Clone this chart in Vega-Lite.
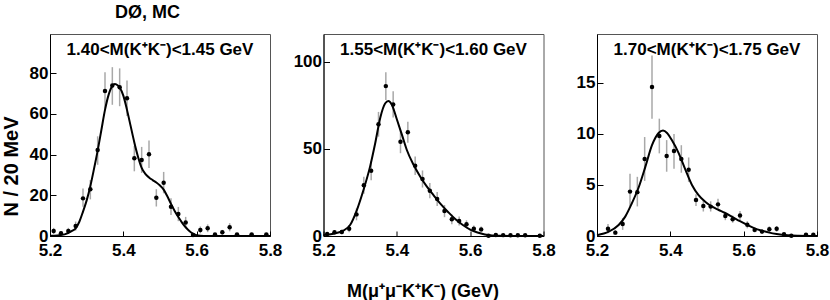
{
  "$schema": "https://vega.github.io/schema/vega-lite/v6.json",
  "padding": {"left": 0, "top": 3, "right": 0, "bottom": 0},
  "background": "white",
  "title": {"text": "DØ, MC", "anchor": "start", "frame": "group", "dx": 65, "fontSize": 18, "font": "Liberation Sans", "fontWeight": "bold", "color": "black", "offset": 12},
  "bounds": "flush",
  "spacing": 53.5,
  "datasets": {
    "pts": [
      {"panel": 1, "mass": 5.21, "n": 2.5, "lo": 1.0, "hi": 4.0},
      {"panel": 1, "mass": 5.23, "n": 1.3, "lo": 0.3, "hi": 2.3},
      {"panel": 1, "mass": 5.25, "n": 2.5, "lo": 1.0, "hi": 4.0},
      {"panel": 1, "mass": 5.27, "n": 4.9, "lo": 2.7, "hi": 7.1},
      {"panel": 1, "mass": 5.29, "n": 18.5, "lo": 14.4, "hi": 23.4},
      {"panel": 1, "mass": 5.31, "n": 23.0, "lo": 18.0, "hi": 27.5},
      {"panel": 1, "mass": 5.33, "n": 42.3, "lo": 35.0, "hi": 49.0},
      {"panel": 1, "mass": 5.35, "n": 71.3, "lo": 62.5, "hi": 80.5},
      {"panel": 1, "mass": 5.37, "n": 74.0, "lo": 64.5, "hi": 83.0},
      {"panel": 1, "mass": 5.39, "n": 73.1, "lo": 63.8, "hi": 82.4},
      {"panel": 1, "mass": 5.41, "n": 67.7, "lo": 59.0, "hi": 76.5},
      {"panel": 1, "mass": 5.43, "n": 38.2, "lo": 31.8, "hi": 44.3},
      {"panel": 1, "mass": 5.45, "n": 37.4, "lo": 31.0, "hi": 43.8},
      {"panel": 1, "mass": 5.47, "n": 40.2, "lo": 33.4, "hi": 47.0},
      {"panel": 1, "mass": 5.49, "n": 18.8, "lo": 14.5, "hi": 23.0},
      {"panel": 1, "mass": 5.51, "n": 26.2, "lo": 21.0, "hi": 31.5},
      {"panel": 1, "mass": 5.53, "n": 14.4, "lo": 10.3, "hi": 18.5},
      {"panel": 1, "mass": 5.55, "n": 10.8, "lo": 7.3, "hi": 14.3},
      {"panel": 1, "mass": 5.57, "n": 6.6, "lo": 3.8, "hi": 9.4},
      {"panel": 1, "mass": 5.59, "n": 0.5, "lo": 0.0, "hi": 1.2},
      {"panel": 1, "mass": 5.61, "n": 3.0, "lo": 1.3, "hi": 4.7},
      {"panel": 1, "mass": 5.63, "n": 3.8, "lo": 1.9, "hi": 5.7},
      {"panel": 1, "mass": 5.65, "n": 0.7, "lo": 0.1, "hi": 1.3},
      {"panel": 1, "mass": 5.67, "n": 1.8, "lo": 0.6, "hi": 3.0},
      {"panel": 1, "mass": 5.69, "n": 4.3, "lo": 2.3, "hi": 6.3},
      {"panel": 1, "mass": 5.71, "n": 0.8, "lo": 0.2, "hi": 1.4},
      {"panel": 1, "mass": 5.75, "n": 0.8, "lo": 0.2, "hi": 1.4},
      {"panel": 1, "mass": 5.79, "n": 0.8, "lo": 0.2, "hi": 1.4},
      {"panel": 2, "mass": 5.21, "n": 1.1, "lo": 0.3, "hi": 2.0},
      {"panel": 2, "mass": 5.23, "n": 2.2, "lo": 1.0, "hi": 3.4},
      {"panel": 2, "mass": 5.25, "n": 2.3, "lo": 1.0, "hi": 3.6},
      {"panel": 2, "mass": 5.27, "n": 4.2, "lo": 2.2, "hi": 6.2},
      {"panel": 2, "mass": 5.29, "n": 12.4, "lo": 9.0, "hi": 15.8},
      {"panel": 2, "mass": 5.31, "n": 29.1, "lo": 24.2, "hi": 34.0},
      {"panel": 2, "mass": 5.33, "n": 37.5, "lo": 32.0, "hi": 43.0},
      {"panel": 2, "mass": 5.35, "n": 64.1, "lo": 57.0, "hi": 71.2},
      {"panel": 2, "mass": 5.37, "n": 86.0, "lo": 78.0, "hi": 94.0},
      {"panel": 2, "mass": 5.39, "n": 75.5, "lo": 68.0, "hi": 83.0},
      {"panel": 2, "mass": 5.41, "n": 54.1, "lo": 47.5, "hi": 60.5},
      {"panel": 2, "mass": 5.43, "n": 59.5, "lo": 53.5, "hi": 65.5},
      {"panel": 2, "mass": 5.45, "n": 40.3, "lo": 35.0, "hi": 45.6},
      {"panel": 2, "mass": 5.47, "n": 32.7, "lo": 27.8, "hi": 37.6},
      {"panel": 2, "mass": 5.49, "n": 26.0, "lo": 21.6, "hi": 30.4},
      {"panel": 2, "mass": 5.51, "n": 21.2, "lo": 17.2, "hi": 25.2},
      {"panel": 2, "mass": 5.53, "n": 14.3, "lo": 10.8, "hi": 17.8},
      {"panel": 2, "mass": 5.55, "n": 9.6, "lo": 6.8, "hi": 12.4},
      {"panel": 2, "mass": 5.57, "n": 8.6, "lo": 6.0, "hi": 11.2},
      {"panel": 2, "mass": 5.59, "n": 6.7, "lo": 4.4, "hi": 9.0},
      {"panel": 2, "mass": 5.61, "n": 4.2, "lo": 2.4, "hi": 6.0},
      {"panel": 2, "mass": 5.63, "n": 3.8, "lo": 2.1, "hi": 5.5},
      {"panel": 2, "mass": 5.65, "n": 0.1, "lo": 0.0, "hi": 0.3},
      {"panel": 2, "mass": 5.67, "n": 0.6, "lo": 0.1, "hi": 1.1},
      {"panel": 2, "mass": 5.69, "n": 0.5, "lo": 0.1, "hi": 0.9},
      {"panel": 2, "mass": 5.71, "n": 0.4, "lo": 0.1, "hi": 0.8},
      {"panel": 2, "mass": 5.73, "n": 0.4, "lo": 0.1, "hi": 0.8},
      {"panel": 2, "mass": 5.75, "n": 0.4, "lo": 0.1, "hi": 0.8},
      {"panel": 2, "mass": 5.79, "n": 0.1, "lo": 0.0, "hi": 0.3},
      {"panel": 3, "mass": 5.23, "n": 0.72, "lo": 0.27, "hi": 1.17},
      {"panel": 3, "mass": 5.25, "n": 0.33, "lo": 0.1, "hi": 0.6},
      {"panel": 3, "mass": 5.27, "n": 1.18, "lo": 0.6, "hi": 1.75},
      {"panel": 3, "mass": 5.29, "n": 4.35, "lo": 2.9, "hi": 6.1},
      {"panel": 3, "mass": 5.31, "n": 4.3, "lo": 2.9, "hi": 5.8},
      {"panel": 3, "mass": 5.33, "n": 7.55, "lo": 5.4, "hi": 9.7},
      {"panel": 3, "mass": 5.35, "n": 14.6, "lo": 11.5, "hi": 17.7},
      {"panel": 3, "mass": 5.37, "n": 9.8, "lo": 8.1, "hi": 11.5},
      {"panel": 3, "mass": 5.39, "n": 7.84, "lo": 6.3, "hi": 9.4},
      {"panel": 3, "mass": 5.41, "n": 8.33, "lo": 6.6, "hi": 10.0},
      {"panel": 3, "mass": 5.43, "n": 7.55, "lo": 6.2, "hi": 8.9},
      {"panel": 3, "mass": 5.45, "n": 6.5, "lo": 5.3, "hi": 7.7},
      {"panel": 3, "mass": 5.47, "n": 3.53, "lo": 2.95, "hi": 4.1},
      {"panel": 3, "mass": 5.49, "n": 2.94, "lo": 2.4, "hi": 3.5},
      {"panel": 3, "mass": 5.51, "n": 2.88, "lo": 2.4, "hi": 3.4},
      {"panel": 3, "mass": 5.53, "n": 3.1, "lo": 2.55, "hi": 3.65},
      {"panel": 3, "mass": 5.55, "n": 1.95, "lo": 1.55, "hi": 2.35},
      {"panel": 3, "mass": 5.57, "n": 1.65, "lo": 1.3, "hi": 2.0},
      {"panel": 3, "mass": 5.59, "n": 2.0, "lo": 1.55, "hi": 2.45},
      {"panel": 3, "mass": 5.61, "n": 1.1, "lo": 0.75, "hi": 1.45},
      {"panel": 3, "mass": 5.63, "n": 0.6, "lo": 0.35, "hi": 0.85},
      {"panel": 3, "mass": 5.65, "n": 0.43, "lo": 0.2, "hi": 0.66},
      {"panel": 3, "mass": 5.67, "n": 0.67, "lo": 0.4, "hi": 0.95},
      {"panel": 3, "mass": 5.69, "n": 0.7, "lo": 0.42, "hi": 0.98},
      {"panel": 3, "mass": 5.71, "n": 0.18, "lo": 0.05, "hi": 0.3},
      {"panel": 3, "mass": 5.73, "n": 0.03, "lo": 0.0, "hi": 0.08},
      {"panel": 3, "mass": 5.77, "n": 0.12, "lo": 0.03, "hi": 0.22},
      {"panel": 3, "mass": 5.79, "n": 0.12, "lo": 0.03, "hi": 0.22}
    ],
    "fit": [
      {"panel": 1, "mass": 5.2, "f": 0.1},
      {"panel": 1, "mass": 5.22, "f": 0.3},
      {"panel": 1, "mass": 5.24, "f": 0.8},
      {"panel": 1, "mass": 5.26, "f": 2.5},
      {"panel": 1, "mass": 5.27, "f": 3.8},
      {"panel": 1, "mass": 5.28, "f": 7.0},
      {"panel": 1, "mass": 5.29, "f": 12.0},
      {"panel": 1, "mass": 5.3, "f": 17.5},
      {"panel": 1, "mass": 5.31, "f": 24.5},
      {"panel": 1, "mass": 5.32, "f": 33.0},
      {"panel": 1, "mass": 5.33, "f": 42.0},
      {"panel": 1, "mass": 5.34, "f": 52.0},
      {"panel": 1, "mass": 5.35, "f": 62.0},
      {"panel": 1, "mass": 5.36, "f": 69.5},
      {"panel": 1, "mass": 5.37, "f": 73.8},
      {"panel": 1, "mass": 5.377, "f": 74.7},
      {"panel": 1, "mass": 5.385, "f": 74.0},
      {"panel": 1, "mass": 5.39, "f": 73.0},
      {"panel": 1, "mass": 5.4, "f": 69.0},
      {"panel": 1, "mass": 5.41, "f": 62.0},
      {"panel": 1, "mass": 5.42, "f": 54.0},
      {"panel": 1, "mass": 5.43, "f": 46.0},
      {"panel": 1, "mass": 5.44, "f": 39.0},
      {"panel": 1, "mass": 5.45, "f": 33.5},
      {"panel": 1, "mass": 5.46, "f": 30.5},
      {"panel": 1, "mass": 5.47, "f": 28.8},
      {"panel": 1, "mass": 5.48, "f": 27.5},
      {"panel": 1, "mass": 5.49, "f": 26.3},
      {"panel": 1, "mass": 5.5, "f": 24.8},
      {"panel": 1, "mass": 5.51, "f": 22.8},
      {"panel": 1, "mass": 5.52, "f": 19.5},
      {"panel": 1, "mass": 5.53, "f": 15.8},
      {"panel": 1, "mass": 5.54, "f": 12.3},
      {"panel": 1, "mass": 5.55, "f": 9.3},
      {"panel": 1, "mass": 5.56, "f": 6.6},
      {"panel": 1, "mass": 5.57, "f": 4.3},
      {"panel": 1, "mass": 5.58, "f": 2.5},
      {"panel": 1, "mass": 5.59, "f": 1.2},
      {"panel": 1, "mass": 5.6, "f": 0.4},
      {"panel": 1, "mass": 5.62, "f": 0.05},
      {"panel": 1, "mass": 5.8, "f": 0.0},
      {"panel": 2, "mass": 5.2, "f": 0.5},
      {"panel": 2, "mass": 5.227, "f": 1.3},
      {"panel": 2, "mass": 5.255, "f": 3.2},
      {"panel": 2, "mass": 5.273, "f": 6.5},
      {"panel": 2, "mass": 5.291, "f": 14.9},
      {"panel": 2, "mass": 5.309, "f": 26.4},
      {"panel": 2, "mass": 5.327, "f": 39.8},
      {"panel": 2, "mass": 5.341, "f": 53.2},
      {"panel": 2, "mass": 5.355, "f": 68.0},
      {"panel": 2, "mass": 5.368, "f": 76.0},
      {"panel": 2, "mass": 5.377, "f": 77.4},
      {"panel": 2, "mass": 5.386, "f": 75.5},
      {"panel": 2, "mass": 5.4, "f": 67.0},
      {"panel": 2, "mass": 5.414, "f": 58.0},
      {"panel": 2, "mass": 5.427, "f": 49.5},
      {"panel": 2, "mass": 5.446, "f": 40.7},
      {"panel": 2, "mass": 5.464, "f": 34.0},
      {"panel": 2, "mass": 5.482, "f": 28.3},
      {"panel": 2, "mass": 5.5, "f": 23.5},
      {"panel": 2, "mass": 5.518, "f": 18.7},
      {"panel": 2, "mass": 5.541, "f": 13.5},
      {"panel": 2, "mass": 5.56, "f": 9.6},
      {"panel": 2, "mass": 5.58, "f": 6.3},
      {"panel": 2, "mass": 5.6, "f": 3.7},
      {"panel": 2, "mass": 5.62, "f": 2.0},
      {"panel": 2, "mass": 5.64, "f": 0.9},
      {"panel": 2, "mass": 5.66, "f": 0.35},
      {"panel": 2, "mass": 5.68, "f": 0.1},
      {"panel": 2, "mass": 5.72, "f": 0.0},
      {"panel": 2, "mass": 5.8, "f": 0.0},
      {"panel": 3, "mass": 5.2, "f": 0.08},
      {"panel": 3, "mass": 5.232, "f": 0.42},
      {"panel": 3, "mass": 5.259, "f": 1.08},
      {"panel": 3, "mass": 5.277, "f": 1.9},
      {"panel": 3, "mass": 5.295, "f": 3.2},
      {"panel": 3, "mass": 5.314, "f": 4.8},
      {"panel": 3, "mass": 5.332, "f": 6.8},
      {"panel": 3, "mass": 5.35, "f": 8.9},
      {"panel": 3, "mass": 5.368, "f": 10.1},
      {"panel": 3, "mass": 5.38, "f": 10.33},
      {"panel": 3, "mass": 5.391, "f": 10.1},
      {"panel": 3, "mass": 5.404, "f": 9.4},
      {"panel": 3, "mass": 5.423, "f": 8.1},
      {"panel": 3, "mass": 5.441, "f": 6.5},
      {"panel": 3, "mass": 5.459, "f": 5.0},
      {"panel": 3, "mass": 5.477, "f": 4.0},
      {"panel": 3, "mass": 5.495, "f": 3.36},
      {"panel": 3, "mass": 5.514, "f": 2.87},
      {"panel": 3, "mass": 5.532, "f": 2.55},
      {"panel": 3, "mass": 5.548, "f": 2.28},
      {"panel": 3, "mass": 5.57, "f": 1.85},
      {"panel": 3, "mass": 5.59, "f": 1.45},
      {"panel": 3, "mass": 5.61, "f": 1.08},
      {"panel": 3, "mass": 5.63, "f": 0.75},
      {"panel": 3, "mass": 5.65, "f": 0.52},
      {"panel": 3, "mass": 5.67, "f": 0.33},
      {"panel": 3, "mass": 5.69, "f": 0.2},
      {"panel": 3, "mass": 5.72, "f": 0.08},
      {"panel": 3, "mass": 5.75, "f": 0.03},
      {"panel": 3, "mass": 5.8, "f": 0.0}
    ],
    "labels": [
      {"panel": 1, "label": "1.40<M(K⁺K⁻)<1.45 GeV", "ly": 91.4},
      {"panel": 2, "label": "1.55<M(K⁺K⁻)<1.60 GeV", "ly": 106.7},
      {"panel": 3, "label": "1.70<M(K⁺K⁻)<1.75 GeV", "ly": 18.2}
    ]
  },
  "hconcat": [
    {
      "width": 220,
      "height": 202,
      "layer": [
        {
          "data": {"name": "pts"},
          "transform": [{"filter": "datum.panel == 1"}],
          "mark": {"type": "rule", "color": "#a8a8a8", "strokeWidth": 1.5},
          "encoding": {
            "x": {"field": "mass", "type": "quantitative", "scale": {"domain": [5.2, 5.8], "nice": false},
              "axis": {"title": null, "values": [5.2, 5.25, 5.3, 5.35, 5.4, 5.45, 5.5, 5.55, 5.6, 5.65, 5.7, 5.75, 5.8],
                "labelExpr": "abs(datum.value*5 - round(datum.value*5)) < 0.001 ? format(datum.value, '.1f') : ''",
                "tickSize": -5, "labelPadding": 11, "labelOverlap": false}},
            "y": {"field": "lo", "type": "quantitative", "scale": {"domain": [0, 99.3], "nice": false},
              "axis": {"title": "N / 20 MeV", "values": [0, 20, 40, 60, 80],
                "format": "d", "tickSize": -6,
                "labelPadding": 8, "minExtent": 30, "maxExtent": 30, "labelOverlap": false,
                "titleFontSize": 20, "titleX": -39, "titleY": 132, "titleAlign": "center", "titleBaseline": "middle", "titleAngle": -90}},
            "y2": {"field": "hi"}
          }
        },
        {
          "data": {"name": "pts"},
          "transform": [{"filter": "datum.panel == 1"}],
          "mark": {"type": "circle", "color": "black", "opacity": 1, "size": 20},
          "encoding": {
            "x": {"field": "mass", "type": "quantitative"},
            "y": {"field": "n", "type": "quantitative"}
          }
        },
        {
          "data": {"name": "fit"},
          "transform": [{"filter": "datum.panel == 1"}],
          "mark": {"type": "line", "color": "black", "strokeWidth": 2, "interpolate": "monotone"},
          "encoding": {
            "x": {"field": "mass", "type": "quantitative"},
            "y": {"field": "f", "type": "quantitative"}
          }
        },
        {
          "data": {"name": "labels"},
          "transform": [{"filter": "datum.panel == 1"}],
          "mark": {"type": "text", "font": "Liberation Sans", "fontWeight": "bold", "fontSize": 17, "color": "black", "baseline": "middle", "align": "center"},
          "encoding": {
            "x": {"datum": 5.5, "type": "quantitative"},
            "y": {"field": "ly", "type": "quantitative"},
            "text": {"field": "label"}
          }
        }
      ]
    },
    {
      "width": 220,
      "height": 202,
      "layer": [
        {
          "data": {"name": "pts"},
          "transform": [{"filter": "datum.panel == 2"}],
          "mark": {"type": "rule", "color": "#a8a8a8", "strokeWidth": 1.5},
          "encoding": {
            "x": {"field": "mass", "type": "quantitative", "scale": {"domain": [5.2, 5.8], "nice": false},
              "axis": {"title": "M(μ⁺μ⁻K⁺K⁻) (GeV)", "values": [5.2, 5.25, 5.3, 5.35, 5.4, 5.45, 5.5, 5.55, 5.6, 5.65, 5.7, 5.75, 5.8],
                "labelExpr": "abs(datum.value*5 - round(datum.value*5)) < 0.001 ? format(datum.value, '.1f') : ''",
                "tickSize": -5, "labelPadding": 11, "labelOverlap": false,
                "titleFontSize": 18, "titleX": 99, "titleY": 55, "titleAlign": "center", "titleBaseline": "middle"}},
            "y": {"field": "lo", "type": "quantitative", "scale": {"domain": [0, 115.9], "nice": false},
              "axis": {"title": null, "values": [0, 50, 100],
                "format": "d", "tickSize": -6,
                "labelPadding": 8, "minExtent": 30, "maxExtent": 30, "labelOverlap": false}},
            "y2": {"field": "hi"}
          }
        },
        {
          "data": {"name": "pts"},
          "transform": [{"filter": "datum.panel == 2"}],
          "mark": {"type": "circle", "color": "black", "opacity": 1, "size": 20},
          "encoding": {
            "x": {"field": "mass", "type": "quantitative"},
            "y": {"field": "n", "type": "quantitative"}
          }
        },
        {
          "data": {"name": "fit"},
          "transform": [{"filter": "datum.panel == 2"}],
          "mark": {"type": "line", "color": "black", "strokeWidth": 2, "interpolate": "monotone"},
          "encoding": {
            "x": {"field": "mass", "type": "quantitative"},
            "y": {"field": "f", "type": "quantitative"}
          }
        },
        {
          "data": {"name": "labels"},
          "transform": [{"filter": "datum.panel == 2"}],
          "mark": {"type": "text", "font": "Liberation Sans", "fontWeight": "bold", "fontSize": 17, "color": "black", "baseline": "middle", "align": "center"},
          "encoding": {
            "x": {"datum": 5.5, "type": "quantitative"},
            "y": {"field": "ly", "type": "quantitative"},
            "text": {"field": "label"}
          }
        }
      ]
    },
    {
      "width": 220,
      "height": 202,
      "layer": [
        {
          "data": {"name": "pts"},
          "transform": [{"filter": "datum.panel == 3"}],
          "mark": {"type": "rule", "color": "#a8a8a8", "strokeWidth": 1.5},
          "encoding": {
            "x": {"field": "mass", "type": "quantitative", "scale": {"domain": [5.2, 5.8], "nice": false},
              "axis": {"title": null, "values": [5.2, 5.25, 5.3, 5.35, 5.4, 5.45, 5.5, 5.55, 5.6, 5.65, 5.7, 5.75, 5.8],
                "labelExpr": "abs(datum.value*5 - round(datum.value*5)) < 0.001 ? format(datum.value, '.1f') : ''",
                "tickSize": -5, "labelPadding": 11, "labelOverlap": false}},
            "y": {"field": "lo", "type": "quantitative", "scale": {"domain": [0, 19.8], "nice": false},
              "axis": {"title": null, "values": [0, 5, 10, 15],
                "format": "d", "tickSize": -6,
                "labelPadding": 8, "minExtent": 30, "maxExtent": 30, "labelOverlap": false}},
            "y2": {"field": "hi"}
          }
        },
        {
          "data": {"name": "pts"},
          "transform": [{"filter": "datum.panel == 3"}],
          "mark": {"type": "circle", "color": "black", "opacity": 1, "size": 20},
          "encoding": {
            "x": {"field": "mass", "type": "quantitative"},
            "y": {"field": "n", "type": "quantitative"}
          }
        },
        {
          "data": {"name": "fit"},
          "transform": [{"filter": "datum.panel == 3"}],
          "mark": {"type": "line", "color": "black", "strokeWidth": 2, "interpolate": "monotone"},
          "encoding": {
            "x": {"field": "mass", "type": "quantitative"},
            "y": {"field": "f", "type": "quantitative"}
          }
        },
        {
          "data": {"name": "labels"},
          "transform": [{"filter": "datum.panel == 3"}],
          "mark": {"type": "text", "font": "Liberation Sans", "fontWeight": "bold", "fontSize": 17, "color": "black", "baseline": "middle", "align": "center"},
          "encoding": {
            "x": {"datum": 5.5, "type": "quantitative"},
            "y": {"field": "ly", "type": "quantitative"},
            "text": {"field": "label"}
          }
        }
      ]
    }
  ],
  "config": {
    "font": "Liberation Sans",
    "view": {"stroke": "#555555", "strokeWidth": 1},
    "axis": {
      "grid": false,
      "domainColor": "black",
      "domainWidth": 1,
      "tickColor": "black",
      "tickWidth": 1,
      "labelFont": "Liberation Sans",
      "labelFontWeight": "bold",
      "labelFontSize": 17,
      "labelColor": "black",
      "labelFlush": false,
      "labelBound": false,
      "labelOverlap": false,
      "titleFont": "Liberation Sans",
      "titleFontWeight": "bold",
      "titleColor": "black"
    }
  }
}
